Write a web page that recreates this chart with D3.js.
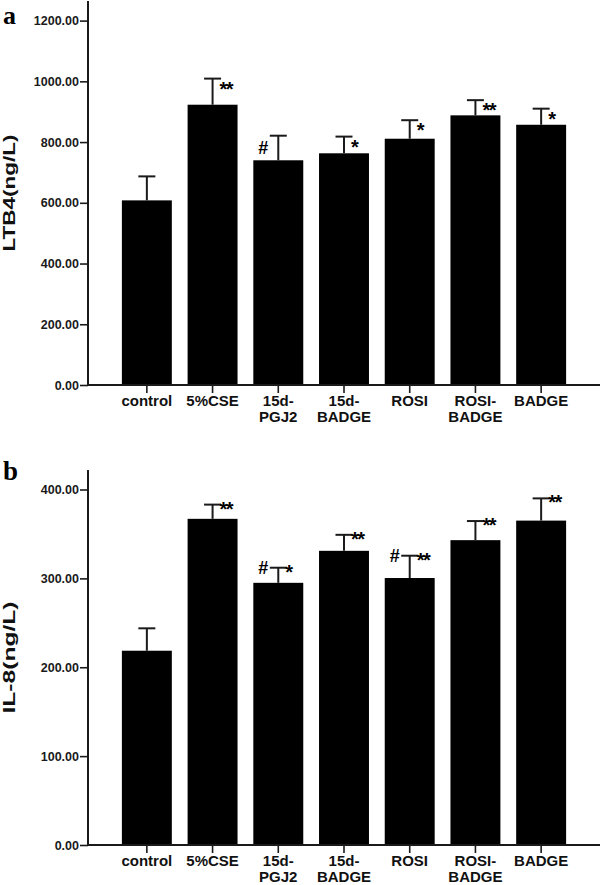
<!DOCTYPE html>
<html><head><meta charset="utf-8">
<script src="https://cdn.jsdelivr.net/npm/d3@7"></script>
<style>body{margin:0;background:#fff}svg{display:block}</style>
</head><body>
<svg id="c" width="600" height="885"></svg>
<script>
const categories = [["control"],["5%CSE"],["15d-","PGJ2"],["15d-","BADGE"],["ROSI"],["ROSI-","BADGE"],["BADGE"]];
const ltb4Mean = [608, 923, 740, 763, 811, 888, 857];
const ltb4Err  = [687, 1009, 821, 818, 872, 938, 910];
const ltb4Star = ["", "**", "", "*", "*", "**", "*"];
const ltb4Hash = ["", "", "#", "", "", "", ""];
const il8Mean = [218.6, 367, 295, 331, 300.4, 343, 365];
const il8Err  = [243.8, 383, 312, 349, 325.5, 364.5, 390];
const il8Star = ["", "**", "*", "**", "**", "**", "**"];
const il8Hash = ["", "", "#", "", "#", "", ""];
const ltb4Ticks = [0, 200, 400, 600, 800, 1000, 1200];
const il8Ticks = [0, 100, 200, 300, 400];

const svg = d3.select("#c");
const ink = "#1a1a1a";
const font = "'Liberation Sans', Arial, sans-serif";

const x = d3.scaleBand().domain(d3.range(categories.length)).range([114, 574]).paddingInner(0.24).paddingOuter(0.12);

function panel(opt) {
  const g = svg.append("g");
  const y = d3.scaleLinear().domain([0, opt.max]).range([opt.y0, opt.y1]);
  g.selectAll("rect.bar").data(opt.mean).join("rect")
    .attr("x", (d,i) => x(i)).attr("width", x.bandwidth())
    .attr("y", d => y(d)).attr("height", d => y(0) - y(d)).attr("fill", "#000");
  const cx = i => x(i) + x.bandwidth()/2;
  g.selectAll("line.err").data(opt.err).join("line")
    .attr("x1", (d,i) => cx(i)).attr("x2", (d,i) => cx(i))
    .attr("y1", (d,i) => y(opt.mean[i])).attr("y2", d => y(d))
    .attr("stroke", ink).attr("stroke-width", 2);
  g.selectAll("line.cap").data(opt.err).join("line")
    .attr("x1", (d,i) => cx(i) - 8.5).attr("x2", (d,i) => cx(i) + 8.5)
    .attr("y1", d => y(d)).attr("y2", d => y(d))
    .attr("stroke", ink).attr("stroke-width", 2);
  g.selectAll("text.star").data(opt.star).join("text")
    .attr("x", (d,i) => cx(i) + opt.starDx).attr("y", (d,i) => y(opt.err[i]) + opt.starDy + 12)
    .attr("font-family", font).attr("font-weight", "bold").attr("font-size", 20)
    .attr("letter-spacing", -1.5)
    .attr("fill", "#000").text(d => d);
  g.selectAll("text.hash").data(opt.hash).join("text")
    .attr("x", (d,i) => cx(i) - 10).attr("y", (d,i) => y(opt.err[i]) + opt.hashDy + 6.5)
    .attr("text-anchor", "end")
    .attr("font-family", font).attr("font-weight", "bold").attr("font-size", 18)
    .attr("fill", "#000").text(d => d);
  const ya = g.append("g").attr("transform", "translate(88,0)")
    .call(d3.axisLeft(y).tickValues(opt.ticks).tickFormat(d3.format(".2f")).tickSize(8).tickPadding(1).tickSizeOuter(0));
  ya.select(".domain").remove();
  ya.selectAll(".tick line").attr("stroke", ink).attr("stroke-width", 1.6);
  ya.selectAll(".tick text").attr("font-family", font).attr("font-weight", "bold").attr("font-size", 12.5).attr("fill", ink);
  g.append("line").attr("x1", 88).attr("x2", 88).attr("y1", y(0)).attr("y2", opt.axisTop)
    .attr("stroke", ink).attr("stroke-width", 2);
  g.append("line").attr("x1", 87).attr("x2", 600).attr("y1", y(0)).attr("y2", y(0))
    .attr("stroke", ink).attr("stroke-width", 2);
  g.selectAll("line.xt").data(categories).join("line")
    .attr("x1", (d,i) => cx(i)).attr("x2", (d,i) => cx(i))
    .attr("y1", y(0)).attr("y2", y(0) + 8).attr("stroke", ink).attr("stroke-width", 1.6);
  const lab = g.selectAll("text.cat").data(categories).join("text")
    .attr("text-anchor", "middle").attr("font-family", font).attr("font-weight", "bold")
    .attr("font-size", 15).attr("fill", "#111");
  lab.selectAll("tspan").data((d,i) => d.map(s => ({s, i}))).join("tspan")
    .attr("x", d => cx(d.i)).attr("y", (d,j) => y(0) + 21 + j*15.5).text(d => d.s);
  const ty = (opt.y0 + opt.axisTop) / 2;
  g.append("text").attr("transform", `translate(15,${ty}) rotate(-90)`)
    .attr("text-anchor", "middle").attr("font-family", font).attr("font-weight", "bold")
    .attr("font-size", 16).attr("textLength", opt.titleLen).attr("lengthAdjust", "spacingAndGlyphs")
    .attr("fill", "#111").text(opt.title);
  g.append("text").attr("x", 3).attr("y", opt.letterY).attr("font-family", "'Liberation Serif', 'Times New Roman', serif")
    .attr("font-weight", "bold").attr("font-size", opt.letterSize).attr("fill", "#000").text(opt.letter);
}

panel({mean: ltb4Mean, err: ltb4Err, star: ltb4Star, hash: ltb4Hash, ticks: ltb4Ticks,
  max: 1200, y0: 385, y1: 20.6, axisTop: 1, starDx: 7, starDy: 5, hashDy: 12,
  title: "LTB4(ng/L)", titleLen: 117, letter: "a", letterY: 23.5, letterSize: 26});
panel({mean: il8Mean, err: il8Err, star: il8Star, hash: il8Hash, ticks: il8Ticks,
  max: 400, y0: 845, y1: 489.5, axisTop: 470, starDx: 7, starDy: -1, hashDy: 0,
  title: "IL-8(ng/L)", titleLen: 112, letter: "b", letterY: 480, letterSize: 27});
</script>
</body></html>
